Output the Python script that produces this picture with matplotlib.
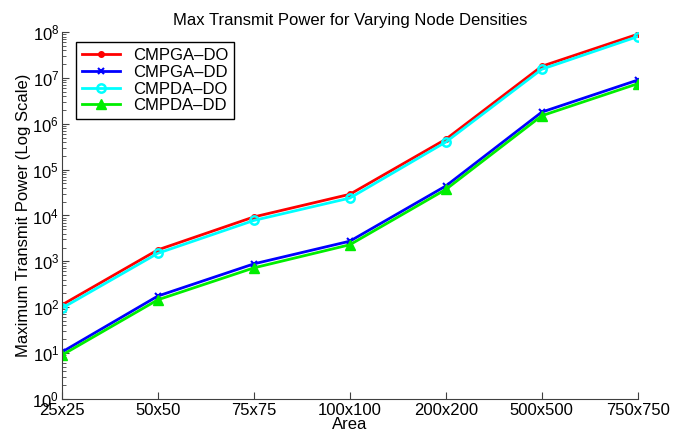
import numpy as np
from matplotlib import pyplot as plt
from matplotlib.ticker import LogLocator, NullFormatter

plt.rcParams['font.family'] = ['Liberation Sans', 'DejaVu Sans']
plt.rcParams['mathtext.fontset'] = 'custom'
plt.rcParams['mathtext.rm'] = 'Liberation Sans'
plt.rcParams['mathtext.it'] = 'Liberation Sans'

areas = ['25x25', '50x50', '75x75', '100x100', '200x200', '500x500', '750x750']
cmpga_do = [112, 1780, 9300, 29000, 4.6e5, 1.8e7, 9.0e7]
cmpga_dd = [10.5, 175, 880, 2750, 44000, 1.8e6, 9.0e6]
cmpda_do = [95, 1500, 7800, 24000, 4.0e5, 1.55e7, 8.0e7]
cmpda_dd = [9, 145, 720, 2300, 37000, 1.5e6, 7.5e6]

fig = plt.figure(figsize=(6.88, 4.34), dpi=100, facecolor='w')
ax = fig.add_axes([0.090, 0.081, 0.837, 0.845])

x = np.arange(len(areas))
ax.plot(x, cmpga_do, '-', color='red', lw=2, marker='.', ms=8, label='CMPGA\u2013DO')
ax.plot(x, cmpga_dd, '-', color='blue', lw=2, marker='x', ms=4, mew=1.5, label='CMPGA\u2013DD')
ax.plot(x, cmpda_do, '-', color='cyan', lw=2, marker='o', ms=6, mfc='none', mew=1.8, label='CMPDA\u2013DO')
ax.plot(x, cmpda_dd, '-', color='#00ee00', lw=2, marker='^', ms=7, label='CMPDA\u2013DD')

ax.set_yscale('log')
ax.set_ylim(1, 1e8)
ax.set_xlim(0, len(areas) - 1)
ax.set_xticks(x)
ax.set_xticklabels(areas)
ax.yaxis.set_major_locator(LogLocator(base=10, numticks=20))
ax.yaxis.set_minor_locator(LogLocator(base=10, subs=np.arange(2, 10), numticks=20))
ax.yaxis.set_minor_formatter(NullFormatter())

for s in ['top', 'right']:
    ax.spines[s].set_visible(False)
for s in ['left', 'bottom']:
    ax.spines[s].set_color('#404040')
ax.tick_params(which='both', direction='in', colors='#404040', labelcolor='black', labelsize=12)
ax.tick_params(axis='x', pad=3)
ax.tick_params(axis='y', pad=2)
ax.tick_params(which='major', length=5)
ax.tick_params(which='minor', length=3)

ax.set_title('Max Transmit Power for Varying Node Densities', fontsize=12, pad=5)
ax.set_xlabel('Area', fontsize=12, labelpad=-1)
ax.set_ylabel('Maximum Transmit Power (Log Scale)', fontsize=12, labelpad=1)

leg = ax.legend(loc='upper left', bbox_to_anchor=(0.024, 0.972), fontsize=12, fancybox=False,
                framealpha=1, edgecolor='black', handlelength=2.3, borderpad=0.35,
                labelspacing=0.1, handletextpad=0.8, borderaxespad=0)
leg.get_frame().set_linewidth(1)

fig.savefig('out.png', dpi=100)
